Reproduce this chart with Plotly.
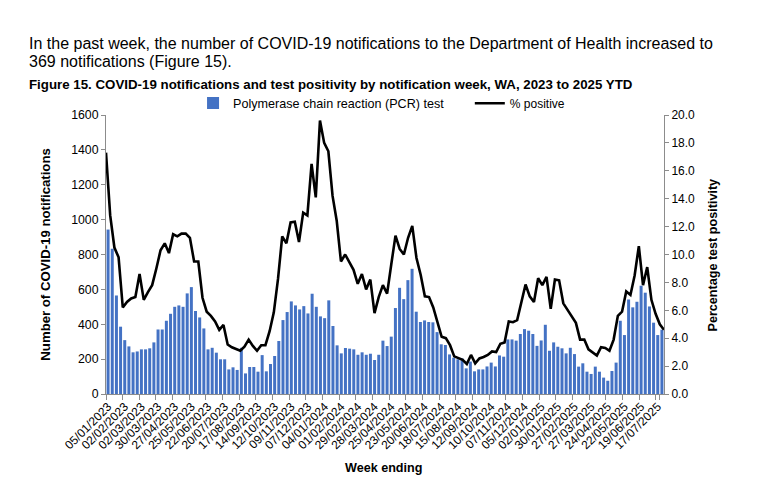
import pandas as pd
import plotly.graph_objects as go

# Week-ending dates (categories) and tick labels
weeks = pd.date_range("2023-01-05", periods=134, freq="7D").strftime("%d/%m/%Y").tolist()
tick_labels = ["05/01/2023", "02/02/2023", "02/03/2023", "30/03/2023", "27/04/2023",
               "25/05/2023", "22/06/2023", "20/07/2023", "17/08/2023", "14/09/2023",
               "12/10/2023", "09/11/2023", "07/12/2023", "04/01/2024", "01/02/2024",
               "29/02/2024", "28/03/2024", "25/04/2024", "23/05/2024", "20/06/2024",
               "18/07/2024", "15/08/2024", "12/09/2024", "10/10/2024", "07/11/2024",
               "05/12/2024", "02/01/2025", "30/01/2025", "27/02/2025", "27/03/2025",
               "24/04/2025", "22/05/2025", "19/06/2025", "17/07/2025"]

# PCR notifications per week
pcr = [943, 833, 565, 386, 309, 273, 239, 244, 256, 256,
       262, 296, 370, 370, 420, 460, 500, 508, 500, 577,
       613, 476, 439, 376, 256, 265, 237, 199, 199, 141,
       153, 138, 265, 118, 155, 155, 128, 223, 130, 172,
       218, 304, 424, 470, 531, 508, 485, 504, 462, 575,
       500, 445, 435, 537, 390, 279, 233, 264, 260, 256,
       225, 239, 225, 231, 195, 225, 306, 275, 329, 493,
       609, 544, 653, 718, 472, 413, 422, 413, 411, 355,
       285, 281, 227, 208, 199, 204, 147, 186, 130, 141,
       141, 158, 180, 158, 221, 214, 313, 313, 306, 344,
       372, 363, 344, 276, 307, 397, 248, 296, 271, 262,
       233, 265, 229, 157, 176, 128, 115, 157, 128, 94,
       76, 132, 180, 420, 338, 542, 497, 529, 621, 581,
       502, 409, 338, 369]

# Percentage positive per week
pct_pos = [17.3, 12.8, 10.5, 9.8, 6.2, 6.6, 6.85, 6.95, 8.6, 6.75,
           7.3, 7.8, 9.0, 10.3, 10.8, 10.1, 11.45, 11.3, 11.5, 11.5,
           11.2, 9.5, 9.5, 6.9, 5.9, 5.6, 5.2, 4.6, 4.95, 3.55,
           3.35, 3.2, 3.1, 3.4, 3.9, 3.45, 3.1, 3.5, 3.5, 4.5,
           5.85, 8.25, 11.3, 10.8, 12.3, 12.35, 10.9, 13.0, 12.8, 16.5,
           14.1, 19.6, 18.0, 17.4, 14.2, 12.4, 9.5, 10.0, 9.5, 8.9,
           7.9, 8.6, 7.5, 8.2, 5.8, 6.95, 7.8, 7.2, 9.3, 11.35,
           10.4, 10.0, 11.2, 12.05, 9.75, 8.55, 7.0, 6.95, 6.2, 5.2,
           4.1, 4.0, 3.5, 2.7, 2.6, 2.45, 2.15, 2.8, 2.2, 2.55,
           2.65, 2.8, 3.05, 3.0, 3.6, 3.7, 5.2, 5.15, 5.3, 6.5,
           7.85, 7.0, 6.6, 8.3, 7.8, 8.4, 6.1, 8.2, 8.15, 6.5,
           6.05, 5.55, 5.1, 3.9, 3.9, 3.2, 3.0, 2.75, 3.35, 3.3,
           3.1, 3.9, 5.6, 5.9, 7.35, 7.1, 8.5, 10.6, 7.8, 9.1,
           6.75, 5.75, 5.0, 4.6]

FONT = "Liberation Sans, Arial, sans-serif"
AXIS_GREY = "#8c8c8c"

fig = go.Figure()
fig.add_trace(go.Bar(
    x=weeks, y=pcr, name="Polymerase chain reaction (PCR) test",
    marker=dict(color="#4472C4", line=dict(width=0)),
    legend="legend",
))
fig.add_trace(go.Scatter(
    x=weeks, y=pct_pos, name="% positive", mode="lines",
    line=dict(color="black", width=2.6),
    xaxis="x2", yaxis="y2", legend="legend2",
))

fig.update_layout(
    width=756, height=493,
    margin=dict(l=98, r=100, t=107, b=107),
    paper_bgcolor="white", plot_bgcolor="white",
    font=dict(family=FONT, size=12, color="black"),
    bargap=0.28,
    showlegend=True,
    xaxis=dict(
        type="category", categoryorder="array", categoryarray=weeks,
        tickmode="array", tickvals=tick_labels, ticktext=tick_labels,
        tickangle=-45, tickson="boundaries", ticks="outside", ticklen=5,
        tickcolor=AXIS_GREY, showline=True, linecolor=AXIS_GREY, linewidth=1,
        showgrid=False, zeroline=False, tickfont=dict(size=12),
    ),
    xaxis2=dict(
        type="category", categoryorder="array", categoryarray=weeks,
        overlaying="x", range=[0, len(weeks) - 1], visible=False,
    ),
    yaxis=dict(
        range=[0, 1600], dtick=200, ticks="outside", ticklen=4,
        tickcolor=AXIS_GREY, showline=True, linecolor=AXIS_GREY, linewidth=1,
        showgrid=False, zeroline=False, tickfont=dict(size=12.3),
    ),
    yaxis2=dict(
        range=[0, 20], dtick=2, tickformat=".1f", overlaying="y", side="right",
        anchor="x", ticks="outside", ticklen=4, tickcolor=AXIS_GREY,
        showline=True, linecolor=AXIS_GREY, linewidth=1,
        showgrid=False, zeroline=False, tickfont=dict(size=12),
    ),
    legend=dict(orientation="h", x=0.156, y=1.042, xanchor="left", yanchor="middle",
                font=dict(size=12.6), bgcolor="rgba(0,0,0,0)"),
    legend2=dict(orientation="h", x=0.652, y=1.042, xanchor="left", yanchor="middle",
                 font=dict(size=12), bgcolor="rgba(0,0,0,0)"),
)

annotations = [
    dict(text="In the past week, the number of COVID-19 notifications to the Department of Health increased to",
         xref="paper", yref="paper", x=-0.142, y=1.258, xanchor="left", yanchor="middle",
         align="left", showarrow=False, font=dict(size=16)),
    dict(text="369 notifications (Figure 15).",
         xref="paper", yref="paper", x=-0.142, y=1.193, xanchor="left", yanchor="middle",
         align="left", showarrow=False, font=dict(size=16)),
    dict(text="<b>Figure 15. COVID-19 notifications and test positivity by notification week, WA, 2023 to 2025 YTD</b>",
         xref="paper", yref="paper", x=-0.142, y=1.111, xanchor="left", yanchor="middle",
         showarrow=False, font=dict(size=13.3)),
    dict(text="<b>Number of COVID-19 notifications</b>", textangle=-90,
         xref="paper", yref="paper", x=-0.109, y=0.5, xanchor="center", yanchor="middle",
         showarrow=False, font=dict(size=13.2)),
    dict(text="<b>Percentage test positivity</b>", textangle=-90,
         xref="paper", yref="paper", x=1.0878, y=0.5, xanchor="center", yanchor="middle",
         showarrow=False, font=dict(size=12.6)),
    dict(text="<b>Week ending</b>",
         xref="paper", yref="paper", x=0.498, y=-0.265, xanchor="center", yanchor="middle",
         showarrow=False, font=dict(size=12.6)),
]
fig.update_layout(annotations=annotations)

fig.write_html("out.html")
